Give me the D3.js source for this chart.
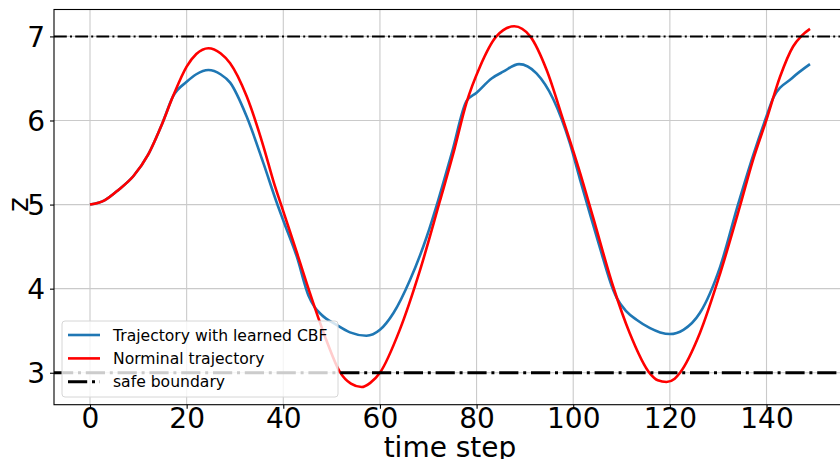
<!DOCTYPE html>
<html>
<head>
<meta charset="utf-8">
<script src="https://cdn.jsdelivr.net/npm/d3@7"></script>
<style>
  body { margin: 0; background: #fff; }
  svg { display: block; font-family: "DejaVu Sans", sans-serif; }
</style>
</head>
<body>
<div id="chart"></div>
<script>
// time steps and z values
const nominalT = [0, 3, 6, 9, 12, 15, 17.2, 20, 22, 24.5, 27, 29, 32.4, 35.9, 38, 40, 42.8, 45.5, 48.9, 51.7, 54, 56.2, 58, 60, 64.1, 68.3, 72.4, 75.2, 77.9, 80.7, 84.1, 87.8, 91.1, 94.5, 97.9, 101.4, 104.1, 108.3, 111.7, 115.9, 117.5, 119.3, 121, 122.1, 126.2, 130.4, 134.5, 137.2, 140, 142.8, 145.5, 147.3, 149];
const nominalZ = [5.00, 5.05, 5.18, 5.34, 5.59, 5.97, 6.29, 6.64, 6.79, 6.86, 6.80, 6.68, 6.29, 5.69, 5.27, 4.92, 4.43, 3.95, 3.39, 3.01, 2.87, 2.83, 2.88, 3.00, 3.51, 4.22, 5.04, 5.61, 6.21, 6.64, 7.00, 7.12, 7.00, 6.60, 6.01, 5.38, 4.85, 4.02, 3.47, 2.99, 2.91, 2.89, 2.93, 3.00, 3.47, 4.18, 4.98, 5.53, 6.01, 6.52, 6.88, 7.01, 7.09];

const cbfT = [0, 3, 6, 9, 12, 15, 17.2, 20, 22, 24.5, 27, 29, 32.4, 35.9, 38.6, 40, 42.8, 45.2, 46.5, 47.9, 51, 53.8, 57.2, 60, 62.8, 66.2, 69.7, 72.1, 75, 77.9, 80, 83.1, 85.5, 88.8, 92.4, 95.9, 99.3, 101.4, 103.4, 105.5, 108.3, 109, 111, 113.1, 115.9, 118, 120, 122.8, 126.2, 130.4, 134.1, 137.2, 140, 141.4, 145.2, 149];
const cbfZ = [5.00, 5.05, 5.18, 5.34, 5.59, 5.97, 6.29, 6.46, 6.55, 6.60, 6.55, 6.45, 6.05, 5.49, 5.03, 4.81, 4.38, 3.92, 3.78, 3.69, 3.57, 3.48, 3.44, 3.51, 3.71, 4.10, 4.62, 5.06, 5.64, 6.23, 6.33, 6.50, 6.58, 6.67, 6.56, 6.25, 5.73, 5.30, 4.90, 4.49, 3.98, 3.89, 3.73, 3.63, 3.53, 3.48, 3.46, 3.51, 3.71, 4.26, 5.00, 5.58, 6.05, 6.27, 6.50, 6.67];

const boundaries = [7, 3];
const xTicks = [0, 20, 40, 60, 80, 100, 120, 140];
const yTicks = [3, 4, 5, 6, 7];
const legendLabels = ["Trajectory with learned CBF", "Norminal trajectory", "safe boundary"];

const W = 840, H = 459;
const margin = {top: 9.5, right: -6, bottom: 54.3, left: 54};

const svg = d3.select("#chart").append("svg")
    .attr("width", W)
    .attr("height", H);

let x = d3.scaleLinear().domain([-7.45, 156.45]).range([margin.left, W - margin.right]);
let y = d3.scaleLinear().domain([2.62, 7.32]).range([H - margin.bottom, margin.top]);

svg.append("clipPath").attr("id", "plotClip")
    .append("rect")
    .attr("x", x.range()[0]).attr("y", y.range()[1])
    .attr("width", x.range()[1] - x.range()[0])
    .attr("height", y.range()[0] - y.range()[1]);

// grid
let grid = svg.append("g").attr("clip-path", "url(#plotClip)");
grid.selectAll(".vgrid").data(xTicks).enter().append("line")
    .attr("x1", d => x(d)).attr("x2", d => x(d))
    .attr("y1", y.range()[0]).attr("y2", y.range()[1])
    .attr("stroke", "#cacaca").attr("stroke-width", 1.1);
grid.selectAll(".hgrid").data(yTicks).enter().append("line")
    .attr("y1", d => y(d)).attr("y2", d => y(d))
    .attr("x1", x.range()[0]).attr("x2", x.range()[1])
    .attr("stroke", "#cacaca").attr("stroke-width", 1.1);

let plot = svg.append("g").attr("clip-path", "url(#plotClip)");

let line = d3.line()
    .x(d => x(d[0]))
    .y(d => y(d[1]))
    .curve(d3.curveMonotoneX);

plot.append("path")
    .datum(d3.zip(cbfT, cbfZ))
    .attr("d", line)
    .attr("fill", "none")
    .attr("stroke", "#1f77b4")
    .attr("stroke-width", 2.6);

plot.append("path")
    .datum(d3.zip(nominalT, nominalZ))
    .attr("d", line)
    .attr("fill", "none")
    .attr("stroke", "#ff0000")
    .attr("stroke-width", 2.6);

// safe boundaries (dash-dot)
const lw = [2, 3];
plot.selectAll(".bound").data(boundaries).enter().append("line")
    .attr("x1", x.range()[0]).attr("x2", x.range()[1])
    .attr("y1", d => y(d)).attr("y2", d => y(d))
    .attr("stroke", "#000")
    .attr("stroke-width", (d, i) => lw[i])
    .attr("stroke-dasharray", (d, i) => [6.4, 1.6, 1, 1.6].map(v => v * lw[i]).join(","));

// axes
let xAxis = svg.append("g")
    .attr("transform", `translate(0,${y.range()[0]})`)
    .call(d3.axisBottom(x).tickValues(xTicks).tickSize(4).tickPadding(5).tickSizeOuter(0));
let yAxis = svg.append("g")
    .attr("transform", `translate(${x.range()[0]},0)`)
    .call(d3.axisLeft(y).tickValues(yTicks).tickFormat(d3.format("d")).tickSize(4).tickPadding(5).tickSizeOuter(0));

[xAxis, yAxis].forEach(function (a) {
    a.select(".domain").remove();
    a.selectAll("line").attr("stroke", "#000").attr("stroke-width", 1.1);
    a.selectAll("text").attr("fill", "#000")
        .style("font-family", "DejaVu Sans")
        .style("font-size", "28px");
});
xAxis.selectAll("text").attr("dy", null).attr("y", 23.5);
yAxis.selectAll("text").attr("dy", "0.36em");

// spines
svg.append("rect")
    .attr("x", x.range()[0]).attr("y", y.range()[1])
    .attr("width", x.range()[1] - x.range()[0])
    .attr("height", y.range()[0] - y.range()[1])
    .attr("fill", "none")
    .attr("stroke", "#000")
    .attr("stroke-width", 1.1);

// axis labels
svg.append("text")
    .attr("x", (x.range()[0] + 840) / 2 + 3)
    .attr("y", 457)
    .attr("text-anchor", "middle")
    .style("font-size", "28px")
    .text("time step");

svg.append("text")
    .attr("transform", `translate(28,${y(5)}) rotate(-90)`)
    .attr("text-anchor", "middle")
    .style("font-size", "28px")
    .text("z");

// legend
let legend = svg.append("g").attr("transform", "translate(62,321)");
legend.append("rect")
    .attr("width", 276).attr("height", 76)
    .attr("rx", 3)
    .attr("fill", "#fff").attr("fill-opacity", 0.8)
    .attr("stroke", "#d6d6d6").attr("stroke-width", 1);

const legColors = ["#1f77b4", "#ff0000", "#000"];
let rows = legend.selectAll(".leg").data(legendLabels).enter().append("g")
    .attr("transform", (d, i) => `translate(0,${14 + i * 23.4})`);
rows.append("line")
    .attr("x1", 6).attr("x2", 38)
    .attr("stroke", (d, i) => legColors[i])
    .attr("stroke-width", (d, i) => i == 2 ? 3 : 2.6)
    .attr("stroke-dasharray", (d, i) => i == 2 ? [6.4, 1.6, 1, 1.6].map(v => v * 3).join(",") : null);
rows.append("text")
    .attr("x", 51).attr("y", 5.5)
    .style("font-size", "15.6px")
    .text(d => d);
</script>
</body>
</html>
